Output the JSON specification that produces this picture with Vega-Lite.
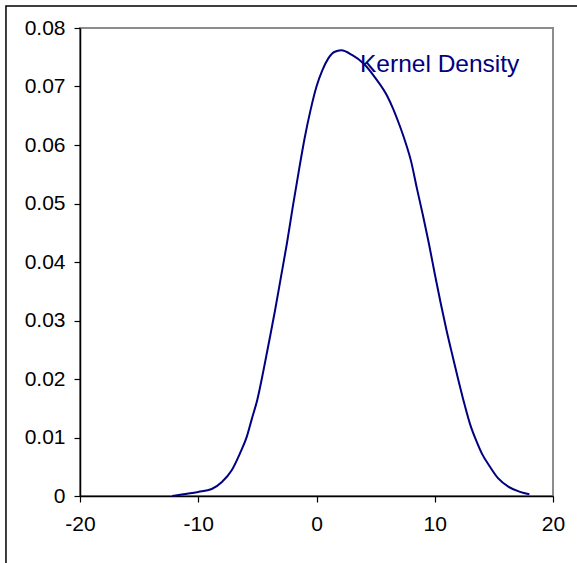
{
  "$schema": "https://vega.github.io/schema/vega-lite/v6.json",
  "width": 473,
  "height": 468,
  "autosize": "none",
  "padding": {"left": 80, "top": 28, "right": 24, "bottom": 67},
  "background": "white",
  "config": {
    "view": {"stroke": "#8c8c8c", "strokeWidth": 2},
    "axis": {
      "labelFont": "Liberation Sans",
      "labelFontSize": 21,
      "labelColor": "black",
      "domainColor": "black",
      "domainWidth": 1.5,
      "tickColor": "black",
      "tickWidth": 1.2,
      "tickSize": 6,
      "grid": false,
      "title": null
    }
  },
  "datasets": {
    "density": [
      {"x": -12.2, "y": 0.0},
      {"x": -11.26, "y": 0.0003},
      {"x": -10.0, "y": 0.0007},
      {"x": -8.86, "y": 0.0012},
      {"x": -8.0, "y": 0.0024},
      {"x": -7.17, "y": 0.0044},
      {"x": -6.47, "y": 0.0073},
      {"x": -5.9, "y": 0.0101},
      {"x": -5.48, "y": 0.0131},
      {"x": -5.0, "y": 0.0165},
      {"x": -4.5, "y": 0.0213},
      {"x": -4.0, "y": 0.0265},
      {"x": -3.5, "y": 0.0318},
      {"x": -3.0, "y": 0.0375},
      {"x": -2.5, "y": 0.0432},
      {"x": -2.0, "y": 0.0495},
      {"x": -1.5, "y": 0.0555},
      {"x": -1.0, "y": 0.0612},
      {"x": -0.5, "y": 0.066},
      {"x": 0.0, "y": 0.07},
      {"x": 0.5, "y": 0.0728},
      {"x": 1.0, "y": 0.0748},
      {"x": 1.5, "y": 0.0759},
      {"x": 2.1, "y": 0.0762},
      {"x": 3.0, "y": 0.0754},
      {"x": 4.0, "y": 0.0739},
      {"x": 5.0, "y": 0.0714},
      {"x": 6.0, "y": 0.0683},
      {"x": 6.5, "y": 0.0661},
      {"x": 7.0, "y": 0.0635},
      {"x": 7.5, "y": 0.0606},
      {"x": 8.0, "y": 0.0572},
      {"x": 8.5, "y": 0.0525},
      {"x": 9.0, "y": 0.048},
      {"x": 9.5, "y": 0.0432},
      {"x": 10.0, "y": 0.038},
      {"x": 10.5, "y": 0.033},
      {"x": 11.0, "y": 0.0283},
      {"x": 11.5, "y": 0.024},
      {"x": 12.0, "y": 0.0198},
      {"x": 12.5, "y": 0.0158},
      {"x": 13.0, "y": 0.0122},
      {"x": 13.5, "y": 0.0095},
      {"x": 14.0, "y": 0.0072},
      {"x": 14.67, "y": 0.005},
      {"x": 15.37, "y": 0.003},
      {"x": 16.22, "y": 0.0016},
      {"x": 17.21, "y": 0.0007},
      {"x": 18.0, "y": 0.0003}
    ],
    "label": [{"x": 3.68, "y": 0.0724, "text": "Kernel Density"}],
    "frame": [{"x": -26.26, "x2": 25, "y": 0.08376, "y2": -0.02}]
  },
  "layer": [
    {
      "data": {"name": "frame"},
      "mark": {"type": "rect", "fill": "transparent", "stroke": "black", "strokeWidth": 1.5, "clip": false},
      "encoding": {
        "x": {"field": "x", "type": "quantitative", "scale": {"domain": [-20, 20], "nice": false, "zero": false},
          "axis": {"values": [-20, -10, 0, 10, 20], "labelExpr": "datum.value + ''", "labelPadding": 11, "labelFlush": false}},
        "x2": {"field": "x2"},
        "y": {"field": "y", "type": "quantitative", "scale": {"domain": [0, 0.08], "nice": false, "zero": false},
          "axis": {"values": [0, 0.01, 0.02, 0.03, 0.04, 0.05, 0.06, 0.07, 0.08], "labelExpr": "datum.value == 0 ? '0' : format(datum.value, '.2f')", "labelPadding": 9, "labelFlush": false}},
        "y2": {"field": "y2"}
      }
    },
    {
      "data": {"name": "density"},
      "mark": {"type": "line", "color": "#000080", "strokeWidth": 2, "interpolate": "monotone"},
      "encoding": {
        "x": {"field": "x", "type": "quantitative"},
        "y": {"field": "y", "type": "quantitative"}
      }
    },
    {
      "data": {"name": "label"},
      "mark": {"type": "text", "align": "left", "baseline": "alphabetic", "font": "Liberation Sans", "fontSize": 24.5, "color": "#000080"},
      "encoding": {
        "x": {"field": "x", "type": "quantitative"},
        "y": {"field": "y", "type": "quantitative"},
        "text": {"field": "text"}
      }
    }
  ]
}
